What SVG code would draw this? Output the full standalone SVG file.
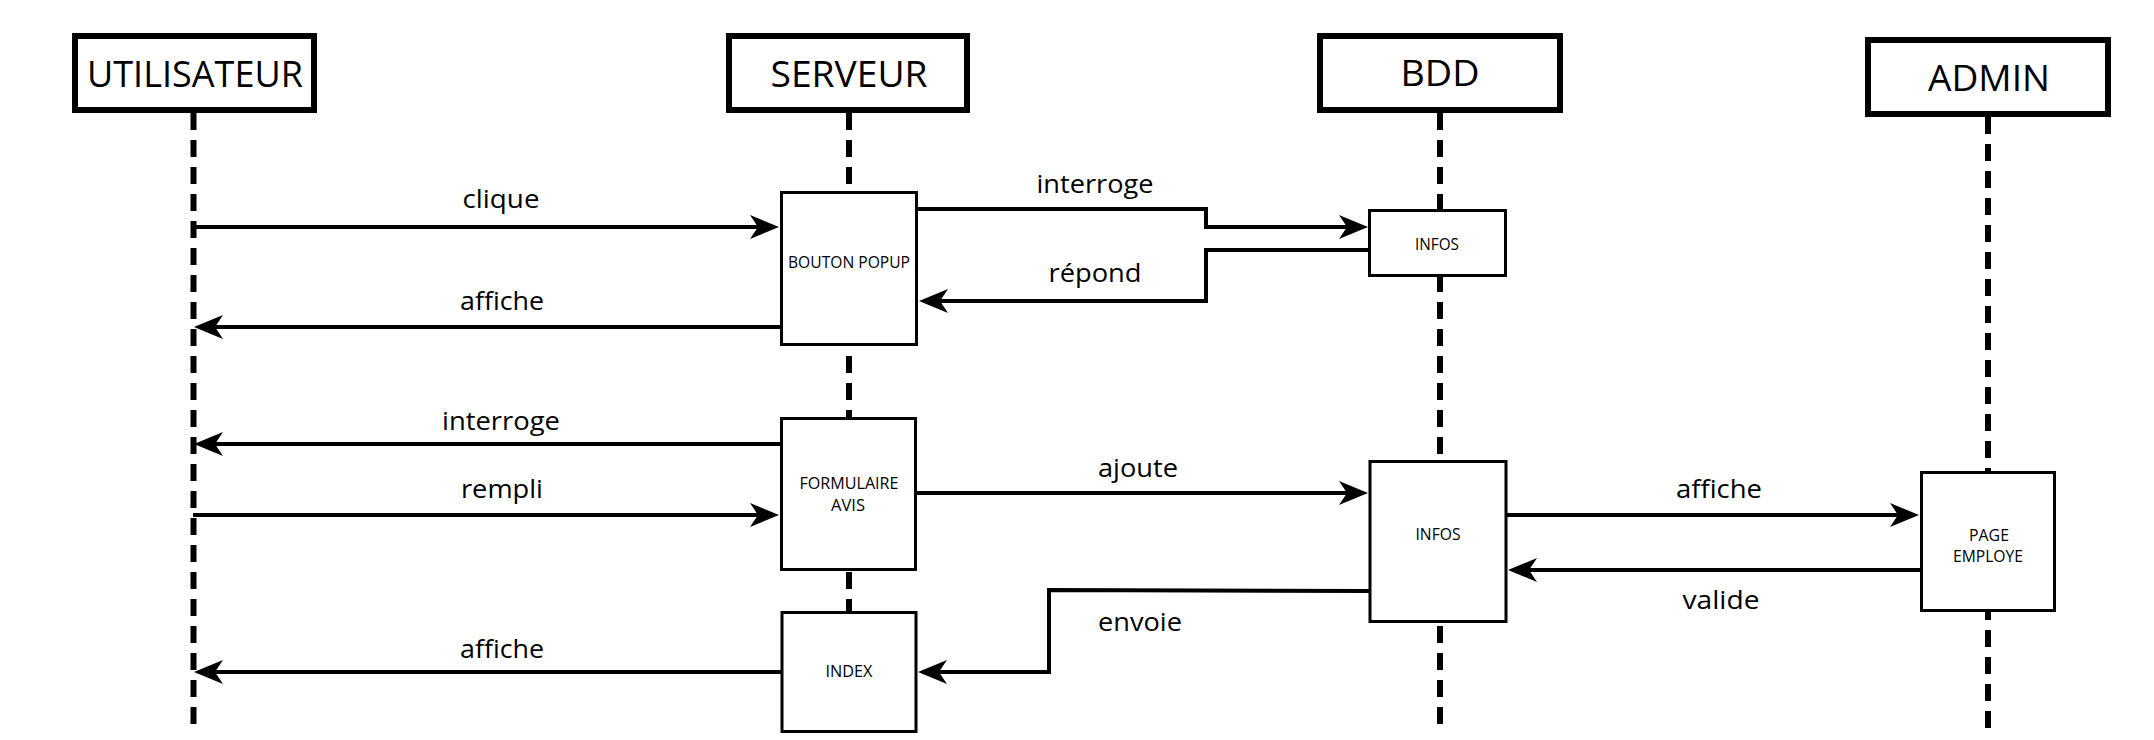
<svg xmlns="http://www.w3.org/2000/svg" width="2154" height="740" viewBox="0 0 2154 740">
<style>
.bg{fill:#fff}
.head{fill:#fff;stroke:#000;stroke-width:6}
.act{fill:#fff;stroke:#000;stroke-width:3}
.life{fill:none;stroke:#000;stroke-width:6;stroke-dasharray:17 10}
.conn{fill:none;stroke:#000;stroke-width:4;marker-end:url(#arr)}
.ht{font-family:"Open Sans","Liberation Sans",sans-serif;font-size:37px;fill:#000;text-anchor:middle}
.lt{font-family:"Open Sans","Liberation Sans",sans-serif;font-size:25px;fill:#000;text-anchor:middle}
.st{font-family:"Open Sans","Liberation Sans",sans-serif;font-size:16px;fill:#000;text-anchor:middle}
</style>
<defs>
<marker id="arr" markerUnits="userSpaceOnUse" markerWidth="40" markerHeight="30" viewBox="-30 -15 40 30" refX="0" refY="0" orient="auto">
<path d="M8,0 L-21,-12 L-13,0 L-21,12 Z" fill="#000"/>
</marker>
</defs>
<rect class="bg" x="0" y="0" width="2154" height="740"/>
<g id="lifelines">
<line class="life" x1="193.5" y1="113" x2="193.5" y2="733"/>
<line class="life" x1="849" y1="113" x2="849" y2="733"/>
<line class="life" x1="1440" y1="113" x2="1440" y2="733"/>
<line class="life" x1="1988" y1="117" x2="1988" y2="733"/>
</g>
<g id="utilisateur">
<rect class="head" x="75" y="36" width="239" height="74"/>
<text class="ht" x="195" y="87" textLength="216" lengthAdjust="spacingAndGlyphs">UTILISATEUR</text>
</g>
<g id="serveur">
<rect class="head" x="729" y="36" width="238" height="74"/>
<text class="ht" x="849" y="87" textLength="157" lengthAdjust="spacingAndGlyphs">SERVEUR</text>
</g>
<g id="bdd">
<rect class="head" x="1320" y="36" width="240" height="74"/>
<text class="ht" x="1440" y="86" textLength="79" lengthAdjust="spacingAndGlyphs">BDD</text>
</g>
<g id="admin">
<rect class="head" x="1868" y="40" width="240" height="74"/>
<text class="ht" x="1989" y="91" textLength="122" lengthAdjust="spacingAndGlyphs">ADMIN</text>
</g>
<g id="bouton-popup">
<rect class="act" x="781.5" y="192.5" width="135" height="152"/>
<text class="st" x="849" y="268" textLength="122" lengthAdjust="spacingAndGlyphs">BOUTON POPUP</text>
</g>
<g id="formulaire-avis">
<rect class="act" x="781.5" y="418.5" width="134" height="151"/>
<text class="st" x="849" y="489" textLength="99" lengthAdjust="spacingAndGlyphs">FORMULAIRE</text>
<text class="st" x="848" y="511" textLength="34" lengthAdjust="spacingAndGlyphs">AVIS</text>
</g>
<g id="index">
<rect class="act" x="782" y="612.5" width="134" height="119"/>
<text class="st" x="849" y="677" textLength="47" lengthAdjust="spacingAndGlyphs">INDEX</text>
</g>
<g id="infos-1">
<rect class="act" x="1369.5" y="210.5" width="136" height="65"/>
<text class="st" x="1437" y="250" textLength="44" lengthAdjust="spacingAndGlyphs">INFOS</text>
</g>
<g id="infos-2">
<rect class="act" x="1370" y="461.5" width="136" height="160"/>
<text class="st" x="1438" y="540" textLength="45" lengthAdjust="spacingAndGlyphs">INFOS</text>
</g>
<g id="page-employe">
<rect class="act" x="1921.5" y="472.5" width="133" height="138"/>
<text class="st" x="1989" y="541" textLength="40" lengthAdjust="spacingAndGlyphs">PAGE</text>
<text class="st" x="1988" y="562" textLength="70" lengthAdjust="spacingAndGlyphs">EMPLOYE</text>
</g>
<g id="connectors">
<path class="conn" d="M193,227 H771"/>
<path class="conn" d="M780,327 H202"/>
<path class="conn" d="M918,209 H1206 V227 H1360"/>
<path class="conn" d="M1368,250 H1206 V301 H927"/>
<path class="conn" d="M780,444 H202"/>
<path class="conn" d="M193,515 H771"/>
<path class="conn" d="M917,493 H1360"/>
<path class="conn" d="M1507,515 H1911"/>
<path class="conn" d="M1920,570 H1516"/>
<path class="conn" d="M1369,591 L1049,590 V672 H926"/>
<path class="conn" d="M781,672 H202"/>
<text class="lt" x="501" y="208" textLength="77" lengthAdjust="spacingAndGlyphs">clique</text>
<text class="lt" x="502" y="310" textLength="84" lengthAdjust="spacingAndGlyphs">affiche</text>
<text class="lt" x="1095" y="193" textLength="117" lengthAdjust="spacingAndGlyphs">interroge</text>
<text class="lt" x="1095" y="282" textLength="93" lengthAdjust="spacingAndGlyphs">répond</text>
<text class="lt" x="501" y="430" textLength="118" lengthAdjust="spacingAndGlyphs">interroge</text>
<text class="lt" x="502" y="498" textLength="82" lengthAdjust="spacingAndGlyphs">rempli</text>
<text class="lt" x="1138" y="477" textLength="80" lengthAdjust="spacingAndGlyphs">ajoute</text>
<text class="lt" x="1719" y="498" textLength="86" lengthAdjust="spacingAndGlyphs">affiche</text>
<text class="lt" x="1721" y="609" textLength="77" lengthAdjust="spacingAndGlyphs">valide</text>
<text class="lt" x="1140" y="631" textLength="84" lengthAdjust="spacingAndGlyphs">envoie</text>
<text class="lt" x="502" y="658" textLength="84" lengthAdjust="spacingAndGlyphs">affiche</text>
</g>
</svg>
